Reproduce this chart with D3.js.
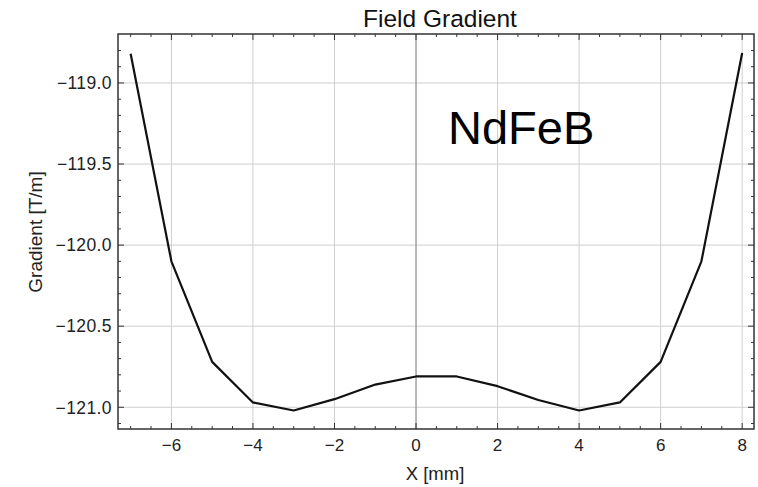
<!DOCTYPE html>
<html>
<head>
<meta charset="utf-8">
<script src="https://cdn.jsdelivr.net/npm/d3@7"></script>
<style>
  body { margin: 0; background: #fff; }
  text { font-family: "Liberation Sans", Arial, sans-serif; }
</style>
</head>
<body>
<div id="main-container"></div>
<script>
// DATA
const xPos = [-7, -6, -5, -4, -3, -2, -1, 0, 1, 2, 3, 4, 5, 6, 7, 8];
const gradient = [-118.82, -120.10, -120.72, -120.97, -121.02, -120.95, -120.86, -120.81,
                  -120.81, -120.87, -120.955, -121.02, -120.97, -120.72, -120.10, -118.815];
const xTicks = [-6, -4, -2, 0, 2, 4, 6, 8];
const yTicks = [-121.0, -120.5, -120.0, -119.5, -119.0];

// CONSTANTS
const W = 758, H = 487;
const margin = {top: 34, right: 4, bottom: 58, left: 118};
const width = W - margin.left - margin.right,
      height = H - margin.top - margin.bottom;

const svg = d3.select("#main-container")
    .append("svg")
        .attr("width", W)
        .attr("height", H);

const g = svg.append("g")
    .attr("transform", `translate(${margin.left}, ${margin.top})`);

const x = d3.scaleLinear().domain([-7.31, 8.29]).range([0, width]);
const y = d3.scaleLinear().domain([-121.134, -118.698]).range([height, 0]);

// grid
g.selectAll(".vgrid")
    .data(xTicks.filter(d => d !== 0))
    .enter().append("line")
        .attr("x1", d => x(d)).attr("x2", d => x(d))
        .attr("y1", 0).attr("y2", height)
        .attr("stroke", "#cfcfcf").attr("stroke-width", 1);

g.selectAll(".hgrid")
    .data(yTicks)
    .enter().append("line")
        .attr("x1", 0).attr("x2", width)
        .attr("y1", d => y(d)).attr("y2", d => y(d))
        .attr("stroke", "#cfcfcf").attr("stroke-width", 1);

// zero axis
g.append("line")
    .attr("x1", x(0)).attr("x2", x(0))
    .attr("y1", 0).attr("y2", height)
    .attr("stroke", "#8a8a8a").attr("stroke-width", 1.2);

// ticks on all four sides, pointing inward
const xMinor = d3.range(-7, 8.01, 0.5);
const yMinor = d3.range(-121.1, -118.7, 0.1);

function isMajorX(d) { return Math.abs(d - Math.round(d / 2) * 2) < 1e-6; }
function isMajorY(d) { return Math.abs(d * 2 - Math.round(d * 2)) < 1e-6; }

[height, 0].forEach((base, i) => {
    g.selectAll(null)
        .data(xMinor)
        .enter().append("line")
            .attr("x1", d => x(d)).attr("x2", d => x(d))
            .attr("y1", base)
            .attr("y2", d => base + (i === 0 ? -1 : 1) * (isMajorX(d) ? 6 : 3))
            .attr("stroke", "#333").attr("stroke-width", 1);
});

[0, width].forEach((base, i) => {
    g.selectAll(null)
        .data(yMinor)
        .enter().append("line")
            .attr("y1", d => y(d)).attr("y2", d => y(d))
            .attr("x1", base)
            .attr("x2", d => base + (i === 0 ? 1 : -1) * (isMajorY(d) ? 6 : 3))
            .attr("stroke", "#333").attr("stroke-width", 1);
});

// frame
g.append("rect")
    .attr("x", 0).attr("y", 0)
    .attr("width", width).attr("height", height)
    .attr("fill", "none")
    .attr("stroke", "#333").attr("stroke-width", 1.5);

// tick labels
g.selectAll(".xlab")
    .data(xTicks)
    .enter().append("text")
        .attr("x", d => x(d))
        .attr("y", height + 22)
        .attr("text-anchor", "middle")
        .attr("font-size", 17)
        .attr("fill", "#222")
        .text(d3.format("d"));

g.selectAll(".ylab")
    .data(yTicks)
    .enter().append("text")
        .attr("x", -6)
        .attr("y", d => y(d))
        .attr("dy", "0.36em")
        .attr("text-anchor", "end")
        .attr("font-size", 17.5)
        .attr("letter-spacing", 0.4)
        .attr("fill", "#222")
        .text(d3.format(".1f"));

// data line
const line = d3.line()
    .x((d, i) => x(xPos[i]))
    .y(d => y(d));

g.append("path")
    .datum(gradient)
    .attr("d", line)
    .attr("fill", "none")
    .attr("stroke", "#111")
    .attr("stroke-width", 2.2)
    .attr("stroke-linejoin", "round");

// labels
svg.append("text")
    .attr("x", 440).attr("y", 27)
    .attr("text-anchor", "middle")
    .attr("font-size", 24.5)
    .attr("fill", "#111")
    .text("Field Gradient");

svg.append("text")
    .attr("x", 435).attr("y", 480)
    .attr("text-anchor", "middle")
    .attr("font-size", 18.5)
    .attr("fill", "#222")
    .text("X [mm]");

svg.append("text")
    .attr("transform", "translate(42, 232) rotate(-90)")
    .attr("text-anchor", "middle")
    .attr("font-size", 19)
    .attr("fill", "#222")
    .text("Gradient [T/m]");

svg.append("text")
    .attr("x", 448).attr("y", 144)
    .attr("font-size", 47)
    .attr("fill", "#000")
    .text("NdFeB");
</script>
</body>
</html>
